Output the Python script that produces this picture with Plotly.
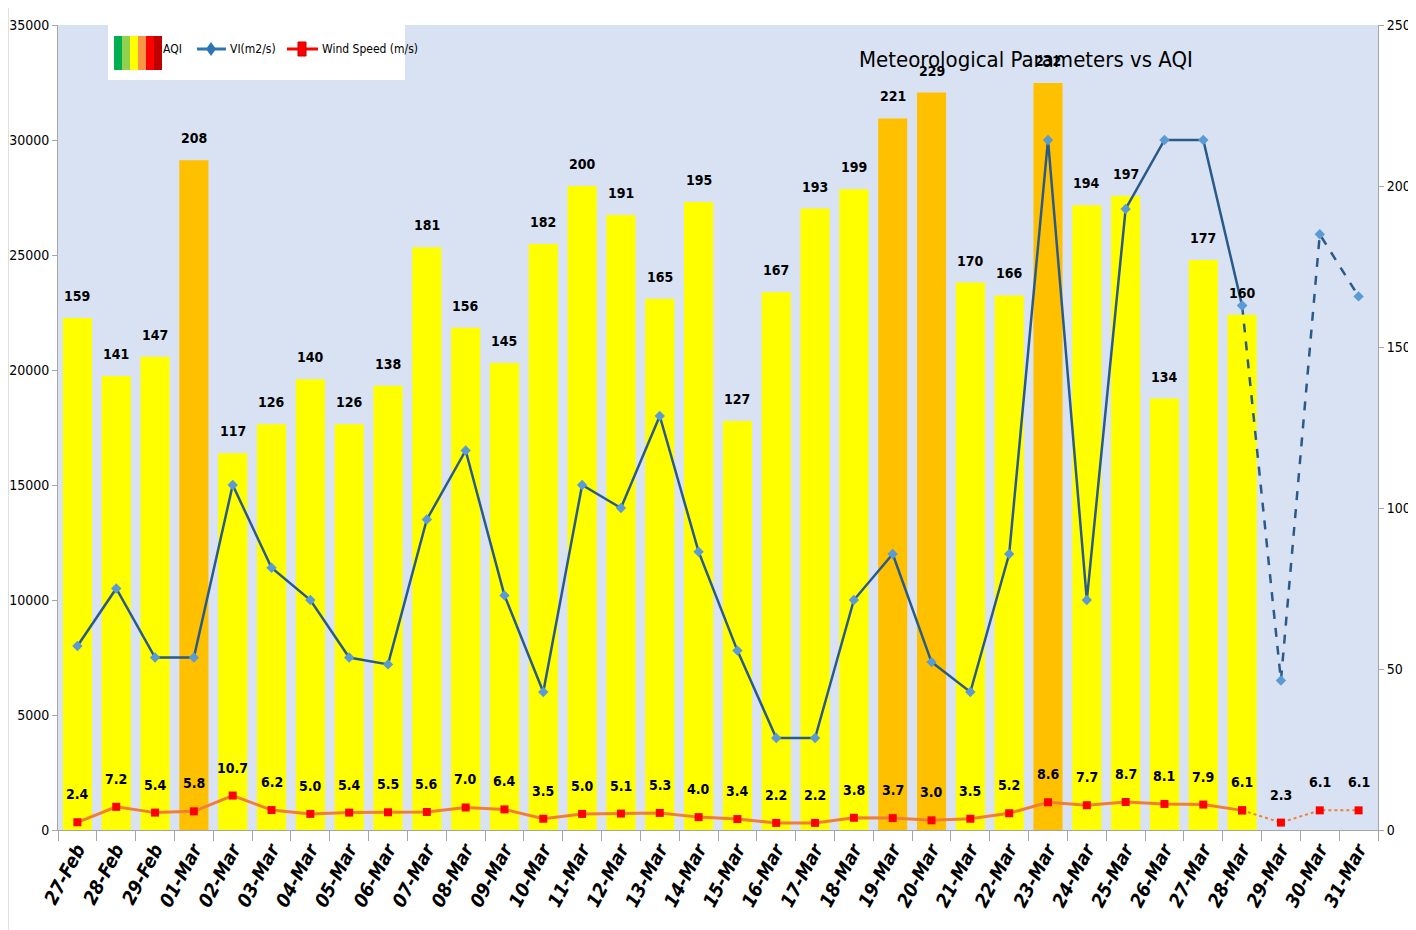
import plotly.graph_objects as go

dates = ["27-Feb", "28-Feb", "29-Feb"] + [f"{d:02d}-Mar" for d in range(1, 32)]

aqi = [159, 141, 147, 208, 117, 126, 140, 126, 138, 181, 156, 145, 182, 200, 191,
       165, 195, 127, 167, 193, 199, 221, 229, 170, 166, 232, 194, 197, 134, 177, 160]

vi = [8000, 10500, 7500, 7500, 15000, 11400, 10000, 7500, 7200, 13500, 16500, 10200,
      6000, 15000, 14000, 18000, 12100, 7800, 4000, 4000, 10000, 12000, 7300, 6000,
      12000, 30000, 10000, 27000, 30000, 30000, 22800, 6500, 25900, 23200]

wind = [2.4, 7.2, 5.4, 5.8, 10.7, 6.2, 5.0, 5.4, 5.5, 5.6, 7.0, 6.4, 3.5, 5.0, 5.1,
        5.3, 4.0, 3.4, 2.2, 2.2, 3.8, 3.7, 3.0, 3.5, 5.2, 8.6, 7.7, 8.7, 8.1, 7.9,
        6.1, 2.3, 6.1, 6.1]

n_obs = len(aqi)  # observed days; the rest are forecast (dashed)

FONT = "DejaVu Sans Condensed, Liberation Sans Narrow, sans-serif"
LINE_BLUE = "#2A5A8A"
MARK_BLUE = "#5B9BD5"
ORANGE = "#F07F36"
RED = "#FF0000"

bar_colors = ["#FFC000" if v > 200 else "#FFFF00" for v in aqi]

fig = go.Figure()

fig.add_trace(go.Bar(
    x=dates[:n_obs], y=aqi, marker=dict(color=bar_colors, line=dict(width=0)),
    name="AQI", yaxis="y", showlegend=False))

# wind speed (solid observed part, dotted forecast part)
wind_obs = wind[:n_obs] + [None] * (len(dates) - n_obs)
wind_fc = [None] * (n_obs - 1) + wind[n_obs - 1:]
fig.add_trace(go.Scatter(
    x=dates, y=wind_obs, mode="lines+markers", yaxis="y",
    line=dict(color=ORANGE, width=3),
    marker=dict(symbol="square", color=RED, size=8), showlegend=False))
fig.add_trace(go.Scatter(
    x=dates, y=wind_fc, mode="lines+markers", yaxis="y",
    line=dict(color=ORANGE, width=2, dash="dot"),
    marker=dict(symbol="square", color=RED, size=8), showlegend=False))

# VI (on left axis, overlaying)
vi_obs = vi[:n_obs] + [None] * (len(dates) - n_obs)
vi_fc = [None] * (n_obs - 1) + vi[n_obs - 1:]
fig.add_trace(go.Scatter(
    x=dates, y=vi_obs, mode="lines+markers", yaxis="y2",
    line=dict(color=LINE_BLUE, width=2.5),
    marker=dict(symbol="diamond", color=MARK_BLUE, size=8), showlegend=False))
fig.add_trace(go.Scatter(
    x=dates, y=vi_fc, mode="lines+markers", yaxis="y2",
    line=dict(color=LINE_BLUE, width=2.5, dash="dash"),
    marker=dict(symbol="diamond", color=MARK_BLUE, size=8), showlegend=False))

annotations = []
for d, v in zip(dates, aqi):
    annotations.append(dict(x=d, y=v, xref="x", yref="y", text=str(v), showarrow=False,
                            xanchor="center", yanchor="middle", yshift=22,
                            font=dict(family=FONT, size=14, color="black", weight="bold")))
for d, w in zip(dates, wind):
    annotations.append(dict(x=d, y=w, xref="x", yref="y", text=f"{w:.1f}", showarrow=False,
                            xanchor="center", yanchor="middle", yshift=28,
                            font=dict(family=FONT, size=14, color="black", weight="bold")))

# the page body adds an 8px offset, so the figure is drawn 8px smaller
OFF = 8
W, H = 1416 - OFF, 930 - OFF
# screen-pixel plot area
L, R, T, B = 58, 1378, 25, 830
def px(x):
    return (x - L) / (R - L)
def py(y):
    return (B - y) / (B - T)

annotations.append(dict(x=px(1026), y=py(60), xref="paper", yref="paper",
                        xanchor="center", yanchor="middle",
                        text="Meteorological Parameters vs AQI", showarrow=False,
                        font=dict(family=FONT, size=22, color="black")))

# custom legend
shapes = []
shapes.append(dict(type="rect", xref="paper", yref="paper", x0=px(108), x1=px(405),
                   y0=py(80), y1=py(25), fillcolor="white", line=dict(width=0), layer="above"))
swatch = ["#00B050", "#92D050", "#FFFF00", "#F79646", "#FF0000", "#C00000"]
for i, c in enumerate(swatch):
    shapes.append(dict(type="rect", xref="paper", yref="paper",
                       x0=px(114 + i * 8), x1=px(122 + i * 8), y0=py(70), y1=py(36),
                       fillcolor=c, line=dict(width=0), layer="above"))
shapes.append(dict(type="line", xref="paper", yref="paper", x0=px(197), x1=px(226),
                   y0=py(49), y1=py(49), line=dict(color="#2E75B6", width=3), layer="above"))
shapes.append(dict(type="path", xref="paper", yref="paper",
                   path=f"M {px(211)},{py(42)} L {px(216)},{py(49)} L {px(211)},{py(56)} L {px(206)},{py(49)} Z",
                   fillcolor="#2E75B6", line=dict(width=0), layer="above"))
shapes.append(dict(type="line", xref="paper", yref="paper", x0=px(287), x1=px(318),
                   y0=py(49), y1=py(49), line=dict(color=RED, width=3), layer="above"))
shapes.append(dict(type="rect", xref="paper", yref="paper", x0=px(298), x1=px(306),
                   y0=py(56), y1=py(42), fillcolor=RED, line=dict(color="#C00000", width=1), layer="above"))
# outer chart border
shapes.append(dict(type="rect", xref="paper", yref="paper", x0=px(8), x1=px(1440),
                   y0=py(960), y1=py(7), line=dict(color="#BFBFBF", width=1), layer="below"))

legend_txt = [(161, "AQI"), (228, "VI(m2/s)"), (320, "Wind Speed (m/s)")]
for x, t in legend_txt:
    annotations.append(dict(x=px(x), y=py(49), xref="paper", yref="paper", text=t,
                            xanchor="left", yanchor="middle",
                            showarrow=False, font=dict(family=FONT, size=12, color="black")))

fig.update_layout(
    width=W, height=H,
    margin=dict(l=L - OFF, r=W - (R - OFF), t=T - OFF, b=H - (B - OFF)),
    paper_bgcolor="white", plot_bgcolor="#D9E2F3",
    bargap=0.25,
    xaxis=dict(type="category", categoryorder="array", categoryarray=dates,
               range=[-0.5, len(dates) - 0.5], automargin=False,
               tickangle=-62, tickson="boundaries", ticks="outside", ticklen=10,
               tickcolor="#A6A6A6", showline=True, linecolor="#A6A6A6", linewidth=1,
               showgrid=False,
               tickfont=dict(family=FONT, size=19, color="black", weight="bold", style="italic")),
    yaxis=dict(side="right", range=[0, 250], dtick=50, showgrid=False, zeroline=False,
               automargin=False, tickformat="d",
               showline=True, linecolor="#A6A6A6", ticks="outside", ticklen=5,
               tickcolor="#A6A6A6",
               tickfont=dict(family=FONT, size=14, color="black")),
    yaxis2=dict(side="left", overlaying="y", range=[0, 35000], dtick=5000,
                automargin=False, tickformat="d",
                showgrid=False, zeroline=False, showline=True, linecolor="#A6A6A6",
                ticks="outside", ticklen=5, tickcolor="#A6A6A6",
                tickfont=dict(family=FONT, size=14, color="black")),
    annotations=annotations, shapes=shapes,
)

fig.write_html("out.html")
